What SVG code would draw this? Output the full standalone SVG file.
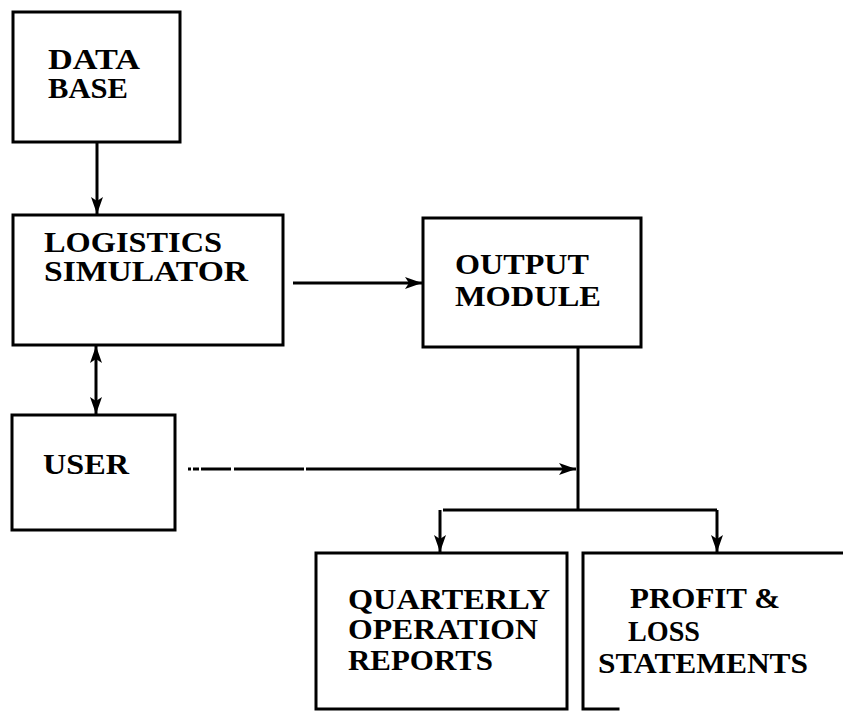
<svg xmlns="http://www.w3.org/2000/svg" width="843" height="713" viewBox="0 0 843 713">
  <style>
    .box { fill: none; stroke: #000; stroke-width: 3; stroke-linecap: square; }
    .wire { fill: none; stroke: #000; stroke-width: 3; }
    .lbl { font-family: "Liberation Serif", "Times New Roman", serif; font-weight: bold; font-size: 29px; fill: #000; }
  </style>
  <defs>
    <marker id="head" viewBox="0 0 17 12" refX="17" refY="6" markerWidth="17" markerHeight="12" markerUnits="userSpaceOnUse" orient="auto-start-reverse">
      <path d="M0,0 L17,6 L0,12 L4,6 z" fill="#000"/>
    </marker>
  </defs>

  <rect width="843" height="713" fill="#fff"/>

  <!-- blocks -->
  <g id="database">
    <rect class="box" x="13" y="12" width="167" height="130"/>
    <text class="lbl" x="48" y="69" textLength="92" lengthAdjust="spacingAndGlyphs">DATA</text>
    <text class="lbl" x="48" y="98" textLength="80" lengthAdjust="spacingAndGlyphs">BASE</text>
  </g>

  <g id="simulator">
    <rect class="box" x="13" y="215" width="270" height="130"/>
    <text class="lbl" x="44" y="252" textLength="178" lengthAdjust="spacingAndGlyphs">LOGISTICS</text>
    <text class="lbl" x="44" y="281" textLength="204" lengthAdjust="spacingAndGlyphs">SIMULATOR</text>
  </g>

  <g id="output">
    <rect class="box" x="423" y="218" width="218" height="129"/>
    <text class="lbl" x="455" y="274" textLength="134" lengthAdjust="spacingAndGlyphs">OUTPUT</text>
    <text class="lbl" x="455" y="306" textLength="146" lengthAdjust="spacingAndGlyphs">MODULE</text>
  </g>

  <g id="user">
    <rect class="box" x="12" y="415" width="163" height="115"/>
    <text class="lbl" x="43" y="474" textLength="86" lengthAdjust="spacingAndGlyphs">USER</text>
  </g>

  <g id="quarterly">
    <rect class="box" x="316" y="553" width="251" height="156"/>
    <text class="lbl" x="348" y="609" textLength="202" lengthAdjust="spacingAndGlyphs">QUARTERLY</text>
    <text class="lbl" x="348" y="639" textLength="190" lengthAdjust="spacingAndGlyphs">OPERATION</text>
    <text class="lbl" x="348" y="670" textLength="145" lengthAdjust="spacingAndGlyphs">REPORTS</text>
  </g>

  <g id="profit">
    <path class="box" d="M583,709 L583,553 L843,553 M583,709 L618,709"/>
    <text class="lbl" x="630" y="608" textLength="150" lengthAdjust="spacingAndGlyphs">PROFIT &amp;</text>
    <text class="lbl" x="628" y="641" textLength="72" lengthAdjust="spacingAndGlyphs">LOSS</text>
    <text class="lbl" x="598" y="673" textLength="210" lengthAdjust="spacingAndGlyphs">STATEMENTS</text>
  </g>

  <!-- connectors -->
  <g id="connectors">
    <line class="wire" x1="97" y1="142" x2="97" y2="214" marker-end="url(#head)"/>
    <line class="wire" x1="293" y1="283" x2="422" y2="283" marker-end="url(#head)"/>
    <line class="wire" x1="96" y1="346" x2="96" y2="414" marker-start="url(#head)" marker-end="url(#head)"/>
    <line class="wire" x1="188" y1="469" x2="576" y2="469" stroke-dasharray="3 2 6 2 30 3 70 2 400" marker-end="url(#head)"/>
    <path class="wire" d="M578,347 L578,510"/>
    <path class="wire" d="M443,510 L717,510"/>
    <line class="wire" x1="440" y1="510" x2="440" y2="552" marker-end="url(#head)"/>
    <line class="wire" x1="717" y1="510" x2="717" y2="552" marker-end="url(#head)"/>
  </g>
</svg>
